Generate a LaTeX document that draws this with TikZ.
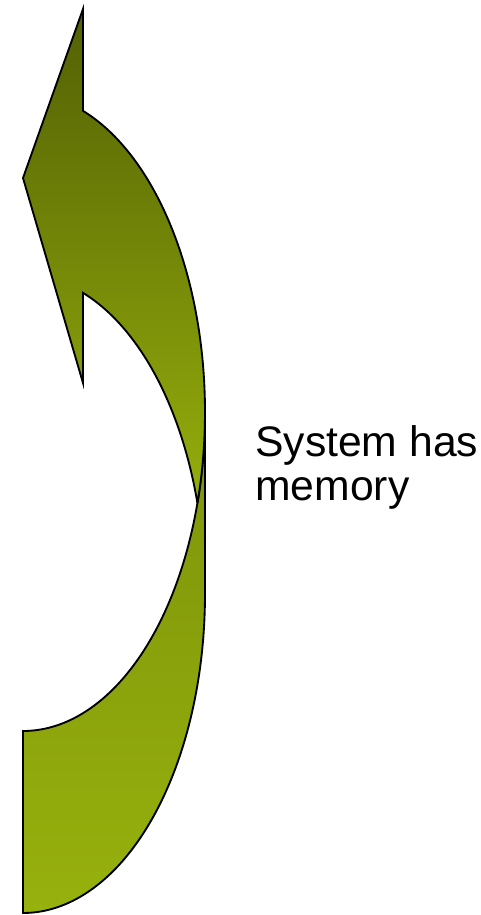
\documentclass[tikz,border=0pt]{standalone}
\usepackage{fontspec}
\setmainfont{Liberation Sans}
\definecolor{darkolive}{HTML}{536004}
\definecolor{lightolive}{HTML}{95AE0C}
\definecolor{midolive}{HTML}{7D930A}
\definecolor{lowolive}{HTML}{97B10D}
\tikzset{
  band/.style={draw=black, line width=1.4pt, line join=miter},
  upperband/.style={band, top color=darkolive, bottom color=lightolive},
  lowerband/.style={band, top color=midolive, bottom color=lowolive},
  label/.style={inner sep=0pt, align=left, font=\fontsize{32}{33}\selectfont}
}
\begin{document}
\begin{tikzpicture}[x=0.75pt,y=-0.75pt]
\useasboundingbox (0,0) rectangle (481,915);
% lower band (tail)
\path[lowerband] (23,731)
  -- plot[domain=-90:0, samples=80, smooth] ({23+182*cos(\x)},{412-319*sin(\x)})
  -- (205,594)
  -- plot[domain=0:-90, samples=80, smooth] ({23+182*cos(\x)},{594-319*sin(\x)})
  -- cycle;
% upper band with arrowhead
\path[upperband] (83,9) -- (23,178) -- (83,383)
  -- plot[domain=70.75:16.58, samples=60, smooth] ({23+182*cos(\x)},{594-319*sin(\x)})
  -- plot[domain=-16.58:70.75, samples=80, smooth] ({23+182*cos(\x)},{412-319*sin(\x)})
  -- cycle;
\node[label, anchor=base west] (txt) at (255,500) {System has\\memory};
\end{tikzpicture}
\end{document}
